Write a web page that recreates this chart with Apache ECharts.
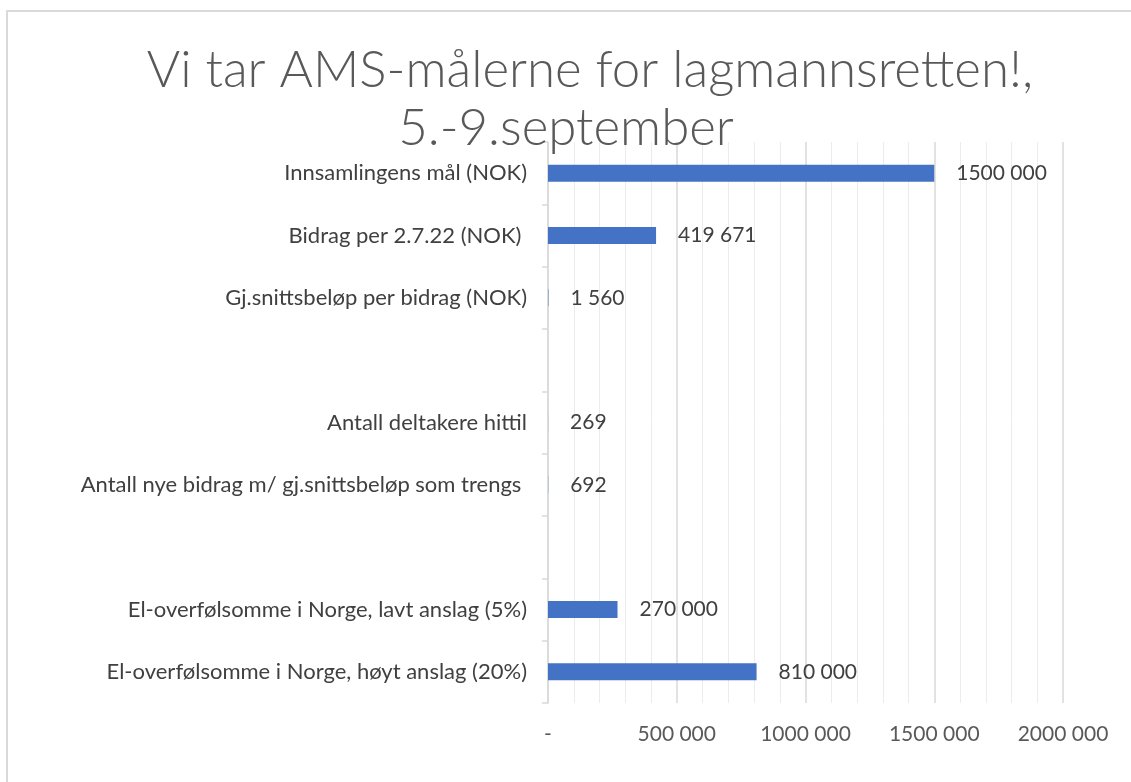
<!DOCTYPE html>
<html lang="no">

<head>
    <meta charset="utf-8">
    <title>index</title>
    <style>
        html, body { margin: 0; padding: 0; background: #fff; }
    </style>
</head>

<body>
    <div id="main" style="width: 1131px;height:782px;"></div>
    <script src="https://cdn.jsdelivr.net/npm/echarts@6/dist/echarts.min.js"></script>

    <script>
        // kategorier (ovenfra og ned), tomme rader er mellomrom i diagrammet
        var categories = [
            'Innsamlingens mål (NOK)',
            'Bidrag per 2.7.22 (NOK) ',
            'Gj.snittsbeløp per bidrag (NOK)',
            '',
            'Antall deltakere hittil',
            'Antall nye bidrag m/ gj.snittsbeløp som trengs ',
            ' ',
            'El-overfølsomme i Norge, lavt anslag (5%)',
            'El-overfølsomme i Norge, høyt anslag (20%)'
        ];
        var values = [1500000, 419671, 1560, '-', 269, 692, '-', 270000, 810000];
        var titleLines = ['Vi tar AMS-målerne for lagmannsretten!,', '5.-9.september'];

        var font = 'Lato, "Open Sans", sans-serif';

        // "### ###" format, som i Excel
        function fmt(v) {
            v = Math.round(v);
            if (v === 0) return '-';
            if (v < 1000) return String(v);
            var rest = String(v % 1000);
            while (rest.length < 3) rest = '0' + rest;
            return Math.floor(v / 1000) + ' ' + rest;
        }

        var myChart = echarts.init(document.getElementById('main'));
        var option = {
            backgroundColor: '#fff',
            animation: false,
            title: [{
                text: titleLines[0],
                left: 585,
                top: 40,
                textAlign: 'center',
                textStyle: { fontFamily: font, fontWeight: 300, fontSize: 51, color: '#595959' }
            }, {
                text: titleLines[1],
                left: 561,
                top: 98,
                textAlign: 'center',
                textStyle: { fontFamily: font, fontWeight: 300, fontSize: 51, color: '#595959' }
            }],
            graphic: [{
                type: 'rect',
                silent: true,
                shape: { x: 7, y: 11, width: 1300, height: 900 },
                style: { fill: null, stroke: '#dadada', lineWidth: 2 }
            }],
            grid: {
                left: 548,
                right: 68,
                top: 142,
                bottom: 79
            },
            xAxis: {
                type: 'value',
                min: 0,
                max: 2000000,
                interval: 500000,
                axisLine: { show: false },
                axisTick: { show: false },
                axisLabel: {
                    formatter: fmt,
                    margin: 21,
                    fontFamily: font,
                    fontSize: 21,
                    color: '#595959'
                },
                splitLine: { show: true, lineStyle: { color: '#d9d9d9', width: 1.5 } },
                minorTick: { show: false, splitNumber: 5 },
                minorSplitLine: { show: true, lineStyle: { color: '#ececec', width: 1 } }
            },
            yAxis: {
                type: 'category',
                inverse: true,
                data: categories,
                axisLine: { show: true, lineStyle: { color: '#d9d9d9', width: 1.5 } },
                axisTick: { show: true, length: 6, lineStyle: { color: '#d9d9d9', width: 1.5 } },
                axisLabel: {
                    margin: 21,
                    fontFamily: font,
                    fontSize: 22,
                    color: '#404040'
                }
            },
            series: [{
                type: 'bar',
                data: values,
                barWidth: 17,
                itemStyle: { color: '#4472c4' },
                label: {
                    show: true,
                    position: 'right',
                    distance: 22,
                    formatter: function (p) { return fmt(p.value); },
                    fontFamily: font,
                    fontSize: 21,
                    color: '#404040'
                }
            }]
        };
        myChart.setOption(option);
    </script>
</body>

</html>
